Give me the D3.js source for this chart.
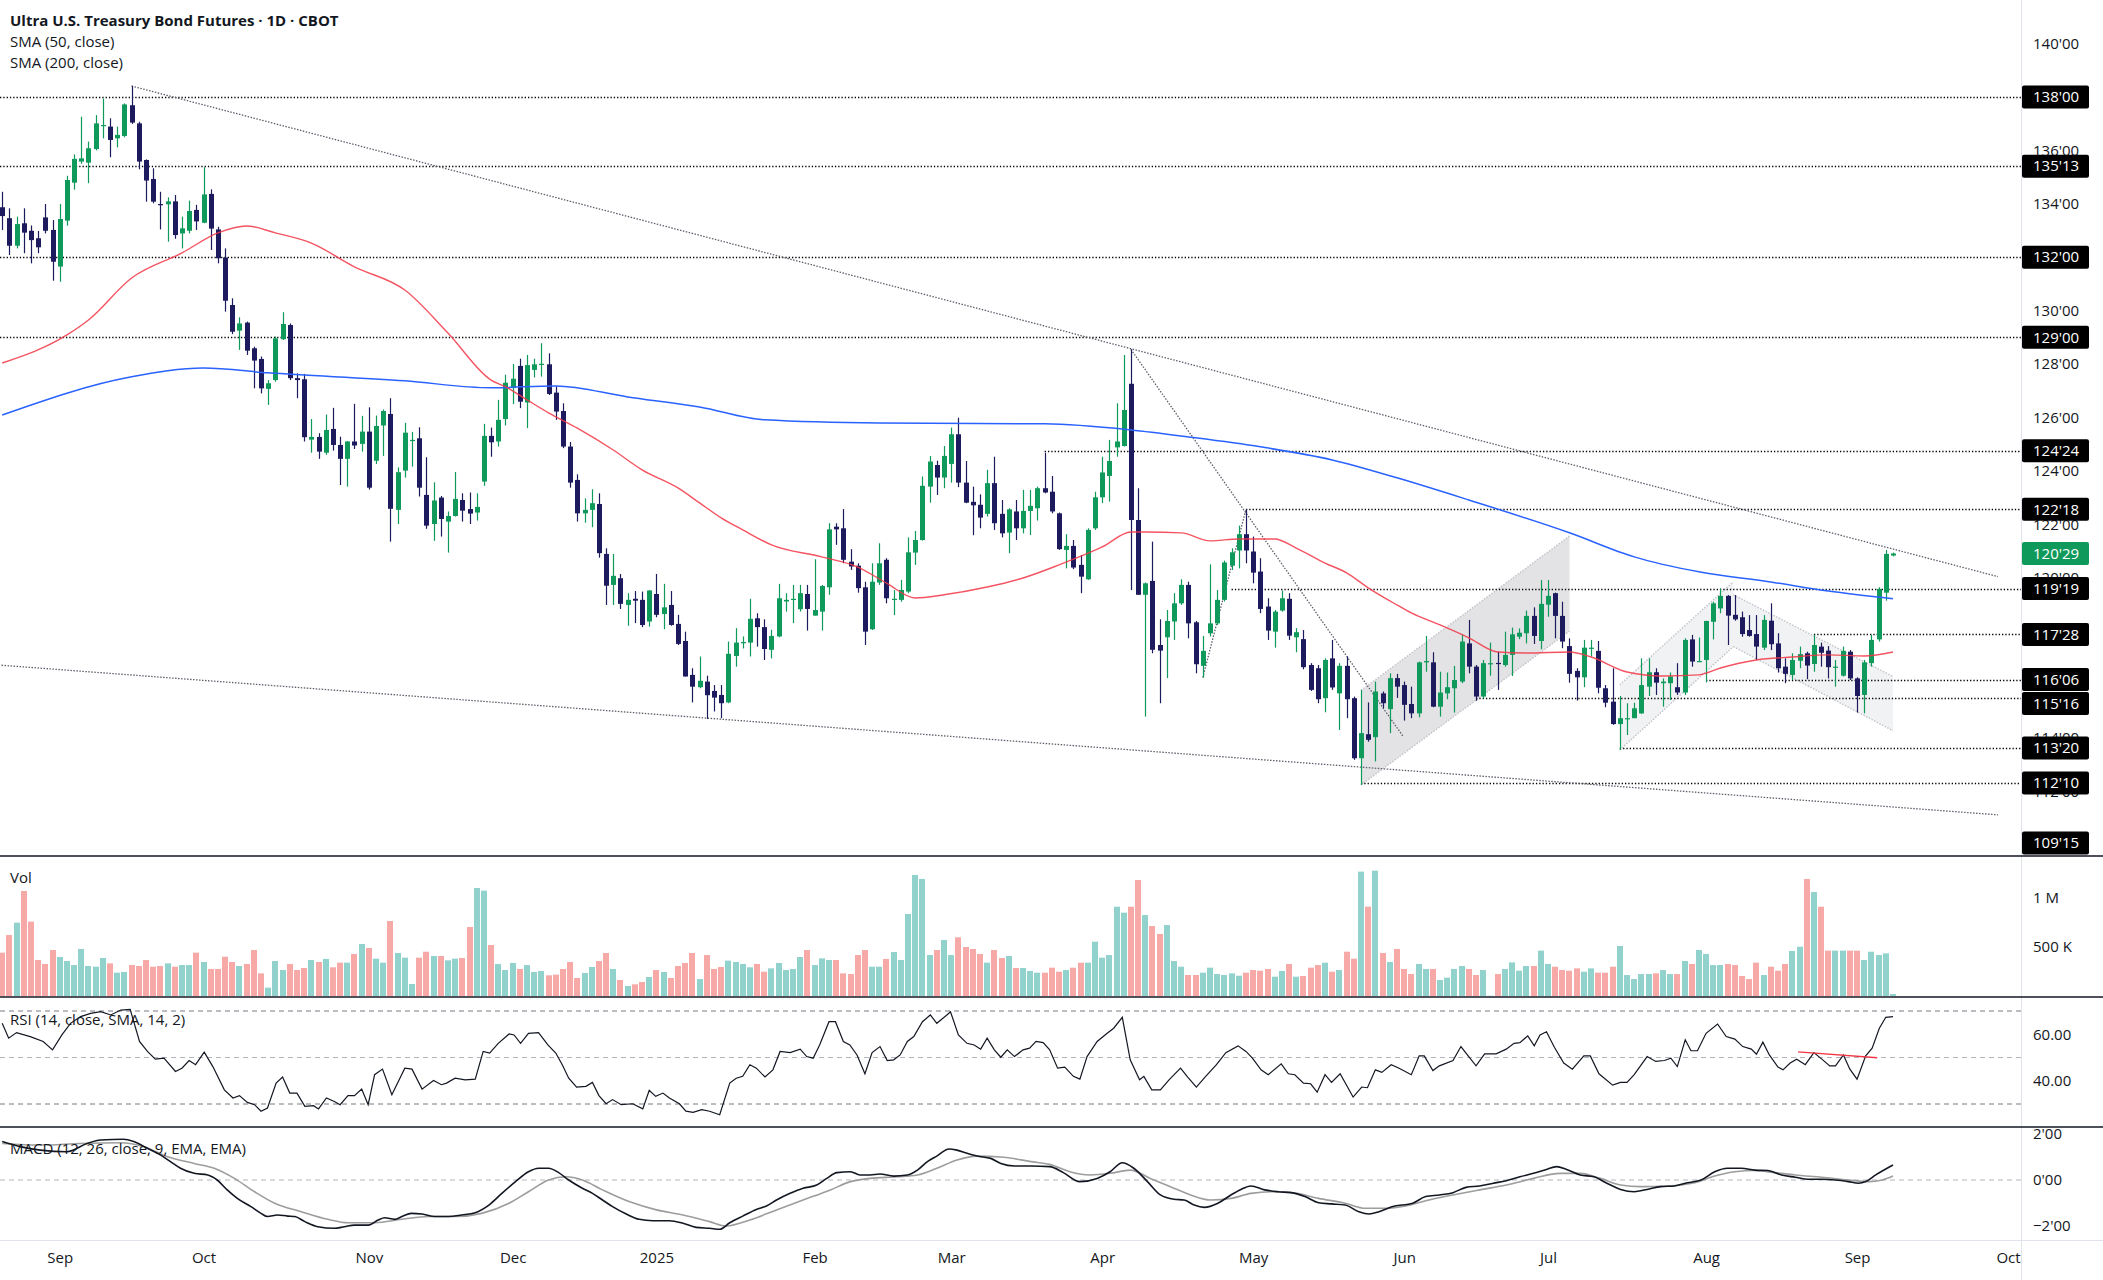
<!DOCTYPE html>
<html>
<head>
<meta charset="utf-8">
<script src="https://cdn.jsdelivr.net/npm/d3@7"></script>
<style>
html, body { margin: 0; padding: 0; background: #fff; }
svg { display: block; font-family: "Open Sans", sans-serif; }
</style>
</head>
<body>
<svg id="chart" width="2103" height="1280"></svg>
<script>
// Daily bars, index 0 = first bar on the left (late Aug 2024)
var open = [
133.87,133.46,132.43,133.27,132.99,132.71,133.49,133.02,131.65,133.37,
134.79,135.58,135.54,136.05,136.91,136.89,136.45,136.54,137.69,137.01,
135.64,134.93,133.99,133.98,134.09,132.89,132.99,133.77,133.29,134.37,
133.04,131.99,130.21,129.25,129.55,128.59,128.19,127.07,127.40,128.93,
129.46,127.47,127.43,125.17,125.27,124.68,125.57,124.97,124.45,125.10,
125.01,125.47,124.38,125.70,126.13,122.54,124.01,125.12,125.22,123.10,
122.01,123.00,122.10,122.31,122.91,122.57,122.44,123.60,125.31,125.10,
125.94,127.10,127.93,126.56,127.78,127.99,127.99,126.93,126.24,124.91,
123.66,122.41,122.54,122.76,120.89,119.73,119.98,118.98,119.21,119.17,
118.36,119.39,118.64,118.98,118.27,117.63,116.36,115.90,116.11,115.76,
115.61,115.33,117.07,117.57,117.57,118.48,118.15,117.30,117.80,119.11,
119.17,118.82,119.39,118.58,118.73,119.64,121.91,121.85,120.60,120.45,
119.64,118.07,119.82,120.67,119.17,119.17,119.48,120.94,121.41,123.41,
124.22,123.75,124.26,125.37,123.56,122.84,122.73,122.39,123.54,122.39,
121.69,122.48,121.85,122.50,122.60,123.35,123.22,122.41,121.04,121.19,
120.48,119.94,121.85,123.01,123.81,124.88,124.93,127.26,122.16,119.36,
119.88,117.48,117.77,118.36,119.04,119.73,118.33,116.70,117.92,118.29,
119.17,120.45,121.02,121.63,120.98,120.23,118.92,117.98,118.77,119.21,
117.77,117.70,116.73,116.61,115.49,116.98,115.67,116.70,115.49,113.24,
114.14,114.03,115.67,115.08,116.24,115.98,115.27,114.92,116.83,116.83,
115.17,115.67,115.86,116.11,117.54,116.67,115.55,116.77,116.81,116.73,
117.11,117.79,117.92,118.57,117.63,118.99,119.42,118.57,117.44,116.51,
116.27,117.35,117.26,115.86,115.36,114.52,114.70,114.74,114.92,115.92,
116.46,116.05,116.05,115.90,115.70,117.69,116.86,116.92,118.35,118.85,
119.32,118.61,118.52,118.04,117.89,117.38,118.39,117.54,116.67,116.36,
116.89,117.17,116.77,117.42,117.27,116.65,116.33,117.23,116.23,115.61,
116.80,117.69,119.44,120.83];

var high = [
134.45,133.83,133.52,133.83,133.19,132.98,133.99,133.39,133.99,135.05,
135.85,137.26,136.33,137.32,137.94,137.20,136.89,137.76,138.41,137.07,
135.66,135.33,134.45,134.24,134.33,133.52,134.12,133.96,135.37,134.54,
133.14,132.33,130.46,129.75,129.59,128.65,128.28,127.40,129.03,129.94,
129.52,127.65,127.63,125.94,125.41,126.11,126.36,125.28,125.12,126.51,
126.06,126.38,126.07,126.30,126.72,124.13,125.80,125.46,125.63,124.51,
123.57,123.06,122.48,123.96,123.16,123.19,123.16,125.76,125.62,126.66,
127.60,128.00,128.20,128.34,128.20,128.78,128.40,127.16,126.53,125.08,
123.87,122.97,123.31,123.16,121.10,120.89,120.14,119.42,119.50,119.48,
119.54,120.14,119.77,119.50,118.61,117.98,116.61,117.05,116.33,115.98,
115.98,117.61,118.11,117.80,119.21,118.67,118.44,118.05,119.77,119.42,
119.73,119.73,119.73,120.69,119.73,122.04,122.04,122.57,121.07,120.54,
119.85,120.54,121.29,120.73,119.54,119.92,121.51,121.75,123.79,124.56,
124.38,124.93,125.62,125.99,124.37,123.41,123.12,124.04,124.53,122.91,
122.60,122.91,123.29,123.29,123.41,124.68,123.81,122.44,121.63,121.41,
120.85,121.85,123.22,124.53,125.16,126.53,128.34,128.55,123.35,119.82,
121.35,118.44,118.79,119.42,119.94,119.85,118.38,117.82,120.50,119.54,
120.64,121.10,121.95,122.56,121.54,120.73,119.23,118.79,119.52,119.42,
118.11,118.04,116.80,116.73,116.98,117.67,116.80,117.05,115.55,115.80,
115.33,116.11,115.74,116.42,116.40,116.11,115.92,116.86,117.82,117.21,
116.48,116.45,116.70,117.86,118.42,116.73,116.92,117.57,117.23,117.98,
118.13,118.10,118.77,118.89,119.91,119.91,119.44,119.10,117.73,116.61,
117.67,117.67,117.63,115.98,116.61,115.57,115.30,115.32,116.98,116.98,
116.61,116.23,116.45,116.80,117.73,117.86,117.76,118.39,119.10,119.60,
119.35,119.35,118.73,118.60,118.60,118.60,119.04,117.92,116.98,117.17,
117.42,117.23,117.86,117.57,117.44,116.92,117.42,117.29,116.27,116.92,
117.86,119.64,121.04,120.94];

var low = [
133.02,132.08,132.33,132.15,131.77,132.15,132.89,131.12,131.08,133.18,
134.53,135.50,134.77,136.00,136.45,135.74,136.11,136.49,136.99,135.29,
134.08,134.02,133.04,132.58,132.69,132.33,132.89,133.02,133.27,132.27,
131.77,129.96,129.12,128.53,128.34,127.09,126.90,126.47,127.34,128.90,
127.40,126.72,125.10,124.68,124.45,124.60,124.76,123.47,123.41,124.82,
124.72,123.30,124.26,124.56,121.35,122.01,123.75,124.16,123.04,121.83,
121.38,121.54,120.94,122.29,122.10,122.01,122.14,123.44,124.53,124.91,
125.70,126.50,126.35,125.60,127.50,127.53,126.84,125.91,124.85,123.37,
122.10,122.06,121.89,120.75,118.98,118.98,118.83,118.20,118.30,118.15,
118.17,118.52,118.07,118.20,117.48,116.30,115.33,115.86,114.71,114.99,
114.74,115.30,116.67,117.35,117.05,117.42,116.92,116.98,117.77,118.73,
118.30,118.73,118.02,118.58,118.02,119.36,121.23,120.54,120.29,119.44,
117.48,118.04,119.73,119.04,118.60,119.10,119.42,120.48,121.39,122.81,
123.10,123.35,123.56,123.39,122.79,121.59,121.85,122.29,121.79,121.51,
120.92,121.41,121.66,121.60,122.14,123.16,122.41,121.04,120.35,120.32,
119.42,119.92,121.79,122.79,122.85,124.53,124.91,119.54,119.36,114.80,
117.17,115.30,116.24,117.67,118.98,117.73,116.42,116.26,117.80,118.23,
119.11,120.29,120.35,120.54,119.79,118.67,117.67,117.38,118.73,117.67,
117.21,116.57,115.76,115.30,114.96,115.80,114.30,114.74,113.18,112.24,
113.86,113.12,115.11,114.18,115.50,114.65,114.74,114.77,116.48,115.15,
114.80,115.45,114.95,116.05,116.42,115.39,115.48,116.33,115.80,116.67,
116.32,117.70,117.54,117.52,117.32,118.54,117.73,117.36,116.07,115.40,
115.90,117.05,115.67,115.15,114.49,113.55,114.11,114.74,114.90,115.57,
115.61,115.17,115.42,115.61,115.61,116.67,116.86,116.08,117.69,118.67,
117.48,118.39,117.79,117.79,116.92,117.29,117.29,116.45,116.05,116.17,
116.61,116.20,116.48,116.67,116.23,115.92,116.30,116.17,114.95,114.92,
116.67,117.61,119.14,120.80];

var close = [
133.54,132.43,133.24,132.92,132.64,132.37,132.99,131.83,133.43,134.89,
135.68,135.70,136.08,137.01,136.95,136.39,136.58,137.72,137.04,135.58,
134.87,134.08,133.97,134.09,132.83,133.08,133.73,133.34,134.35,133.07,
131.96,130.37,129.21,129.52,128.50,128.13,127.09,127.28,128.96,129.50,
127.47,127.40,125.26,125.27,124.72,125.53,124.97,124.45,125.10,124.95,
125.47,123.37,125.68,126.24,122.58,123.95,125.43,125.16,123.37,121.95,
122.89,122.20,122.31,122.95,122.51,122.40,122.65,125.31,125.07,125.91,
127.30,127.45,126.59,127.96,127.99,128.01,126.88,126.22,124.91,123.56,
122.41,122.54,122.79,120.92,119.70,120.07,119.02,119.17,119.14,118.23,
119.52,118.61,118.89,118.23,117.52,116.30,115.92,116.14,115.60,115.51,
115.30,117.15,117.57,117.59,118.46,118.15,117.33,117.82,119.23,119.17,
119.21,119.42,118.83,118.79,119.69,121.81,121.81,120.67,120.42,119.61,
117.98,119.85,120.54,119.23,119.21,119.54,120.95,121.41,123.44,124.35,
123.75,124.56,125.37,123.56,122.81,122.71,122.25,123.54,122.04,121.66,
122.56,121.85,122.50,122.69,123.35,123.19,122.48,121.07,121.19,120.38,
120.04,121.79,123.01,123.94,124.37,125.10,126.28,122.16,119.36,119.79,
117.30,117.27,118.38,119.04,119.73,118.29,116.76,117.26,118.29,119.17,
120.57,120.95,121.63,121.02,120.19,118.83,118.02,118.73,119.23,117.83,
117.96,116.65,115.80,115.45,116.92,115.89,116.70,115.45,113.24,114.18,
113.93,115.74,115.30,116.24,115.92,115.24,114.92,116.83,116.88,115.17,
115.70,115.90,116.17,117.61,116.67,115.55,116.80,116.80,116.78,117.11,
117.88,117.94,118.57,117.82,119.02,119.32,118.57,117.61,116.40,116.27,
117.38,117.38,115.88,115.32,114.52,114.74,114.74,115.11,115.98,116.46,
116.07,116.11,116.30,115.70,117.67,116.86,116.88,118.38,119.04,119.32,
118.58,118.44,117.89,117.82,117.42,118.42,117.51,116.61,116.40,116.92,
117.14,116.71,117.48,117.19,116.65,116.67,117.26,116.23,115.57,116.83,
117.67,119.58,120.89,120.906];

// Volume in thousands of contracts
var volume = [
442,622,748,1071,759,367,327,469,398,357,
316,480,306,299,388,333,238,245,316,306,
367,299,306,333,299,316,316,442,347,276,
276,401,347,306,327,469,231,85,357,265,
327,265,286,367,347,378,293,340,340,429,
531,490,381,340,765,439,391,122,391,452,
408,408,364,381,388,704,1102,1075,520,327,
265,337,276,316,245,255,211,218,276,347,
184,235,296,357,439,276,163,102,119,143,
194,265,245,184,306,337,439,173,418,276,
296,361,347,327,293,327,248,282,337,265,
276,398,469,316,384,367,367,231,224,418,
469,299,299,378,449,367,837,1235,1194,418,
469,571,418,599,500,480,429,340,469,388,
408,286,286,255,238,238,289,248,265,289,
340,340,554,391,418,911,850,911,1184,826,
714,633,724,357,299,214,214,238,289,224,
214,231,207,238,265,258,276,197,255,327,
197,204,289,316,340,248,265,452,381,1269,
911,1279,439,347,480,276,224,327,276,276,
163,187,276,306,276,214,265,3,224,276,
343,258,306,306,463,327,299,265,258,282,
248,282,238,238,299,510,214,173,224,224,
231,265,224,224,357,327,469,429,316,316,
327,316,204,173,340,214,299,258,327,459,
503,1194,1061,911,463,463,463,463,463,367,
452,418,435,20];

// Moving averages: [bar, price]
var sma50 = [[0,128.04],[9,129.09],[12,129.65],[18,131.22],[25,132.16],[30,132.91],[34,133.17],[38,132.91],
  [43,132.53],[49,131.64],[56,130.77],[62,129.16],[68,127.40],[70,127.15],[73,126.66],[76,126.17],[80,125.60],
  [85,124.78],[89,124.04],[94,123.36],[97,122.80],[100,122.24],[103,121.79],[107,121.23],[114,120.78],
  [119,120.40],[123,119.80],[127,119.24],[131,119.36],[137,119.65],[142,119.99],[147,120.48],[153,121.15],
  [157,121.71],[159,121.71],[164,121.68],[168,121.38],[172,121.45],[177,121.45],[180,121.11],[184,120.55],
  [187,120.18],[190,119.62],[194,118.98],[196,118.68],[200,118.23],[204,117.75],[208,117.22],[212,117.18],
  [218,117.22],[221,117.03],[226,116.47],[231,116.32],[236,116.36],[239,116.62],[244,116.92],[249,117.03],
  [254,117.11],[259,117.07],[263,117.22]];
var sma200 = [[0,126.09],[18,127.52],[28,127.85],[37,127.67],[56,127.37],[68,127.11],[77,127.18],[87,126.77],
  [97,126.39],[106,125.91],[122,125.79],[145,125.76],[157,125.53],[165,125.27],[175,124.90],[185,124.41],
  [194,123.74],[204,122.91],[218,121.68],[227,120.78],[236,120.22],[246,119.84],[254,119.50],[263,119.21]];

// RSI (14) samples: [bar, value]
var rsi = [[0,64.7],[0.9,58.3],[2,60.7],[3.9,59],[5.7,56.9],[7,53.3],[8.3,59.7],[9.5,64.7],[10.9,67.6],[12.3,69],
  [13.7,69.7],[15.1,68.3],[16.5,70.4],[17.8,70.7],[19.1,56.9],[20.2,52.6],[21.3,49.3],[22.5,49.7],[24.1,44],
  [25,45.4],[26,48.7],[26.9,46.9],[28.1,52.3],[29.3,46.1],[30.9,36.1],[32.1,32.6],[33,33.6],[34.1,30.7],
  [35.1,29.7],[36,26.9],[36.9,28.3],[38.1,39],[39,41.6],[40,34.7],[41,34.7],[42.1,29],[43.3,29.3],[44,27.9],
  [45.1,32.6],[46.2,31.1],[47,29.7],[48.1,33.6],[49,33.6],[50,36.4],[50.9,29.7],[51.8,42.6],[52.9,45],
  [54.2,34],[56,45.4],[57,45],[58.4,36.4],[60,40.1],[61.1,38.3],[61.8,39],[63,41.1],[64.4,40.4],[65.8,40.7],
  [66.9,52.6],[67.8,51.9],[69,56.1],[70.5,60.1],[71.2,59.7],[72.1,56.1],[73.2,60.4],[74.6,60.7],[75.9,55.4],
  [77,51.9],[77.9,46.9],[78.8,41.1],[79.9,37.3],[81.2,37.6],[82.1,39.3],[83,33.6],[84,30.1],[84.9,31.9],
  [86.1,29.7],[87.7,30.1],[89.1,27.9],[90,35.9],[90.9,33.3],[91.9,34.7],[92.8,32.6],[94.2,30.1],[95.1,26.9],
  [96.1,26.4],[97.3,27.6],[98.4,26.9],[99.8,25.4],[101.2,39],[102.1,41.1],[103,41.9],[104,46.9],[104.9,45.4],
  [106.1,41.6],[107.2,44.7],[108.2,52.6],[109.6,52.1],[111,53.6],[111.9,50.4],[112.8,49.7],[113.7,55.4],
  [115,65.4],[115.9,65.4],[117,56.9],[117.9,55.4],[118.9,51.1],[120,43],[121,52.1],[122.1,54.7],[123.1,48.7],
  [124,49],[124.9,51.1],[125.9,56.9],[126.8,59],[128,65.4],[129.1,68.3],[130,64.7],[131.4,68.3],[131.9,69.7],
  [133,59.7],[134.2,56.1],[135.2,55.4],[136.1,53.6],[137,58.3],[138,53.3],[138.9,50.1],[139.8,53.3],
  [140.8,50.4],[142,53.3],[142.9,54],[143.8,56.9],[144.8,56.4],[145.7,53.3],[146.8,45.4],[147.8,45.9],
  [149,41.9],[149.9,40.7],[150.9,50.4],[152.3,56.9],[153.7,60.4],[154.6,62.6],[155.8,67.3],[156.9,49],
  [158.2,40.4],[158.8,41.9],[159.9,36.1],[161.1,36.1],[162.3,40.4],[163.9,45.4],[164.9,41.6],[166.1,37.3],
  [167.4,41.9],[168.9,46.9],[170.2,52.1],[171.9,55],[173,52.6],[173.9,49.7],[175.1,44.7],[176.1,42.6],
  [177.9,47.3],[178.9,43],[179.8,42.6],[181,39],[182,38.7],[182.9,35.1],[184,42.6],[184.9,39.3],[186.1,43],
  [187.9,33],[189.1,37.3],[189.9,37],[191,44.7],[191.9,43.6],[193.2,46.9],[194.3,45.4],[196,42.6],
  [197.1,50.7],[197.8,50.7],[199,44.4],[199.9,46.4],[201.8,48.7],[202.9,54.7],[203.8,51.1],[205,46.4],
  [206.2,51.6],[207.8,51.6],[209.2,53.6],[210.3,56.1],[211.1,56.4],[212.2,59.3],[213.1,55],[213.9,59.7],
  [214.8,61.1],[215.9,54.4],[217.2,47.6],[218.4,45],[220,50.7],[220.9,50.7],[222.1,43],[224,38.1],
  [225.1,39.3],[226,39.3],[227,42.6],[228.8,50.4],[230,48.3],[231.2,48.7],[232.1,49.7],[233,46.1],
  [234.1,57.6],[234.9,52.9],[235.8,52.9],[237,60.4],[238.6,64.4],[239.8,59],[241,57.9],[242.1,54.7],
  [243.3,53.6],[244,51.4],[244.9,56.6],[245.8,51.1],[247,45.9],[247.7,44.7],[248.7,47.6],[249.6,49.3],
  [250.8,46.9],[252,52.1],[253.1,49.3],[254.2,46.4],[255,46.4],[256.1,51.1],[257,45],[258,40.7],[259.2,50.7],
  [260.1,54],[261.1,62.6],[262,67.3],[263,67.6]];
var rsiMa = [[249.8,52.4],[260.8,49.9]];

// MACD (12, 26, 9): [bar, value]
var macd = [[0,1.67],[2.5,1.45],[5.3,1.3],[9,1.23],[11.8,1.59],[13.7,1.74],[16.9,1.77],[18.3,1.67],[20.2,1.38],
  [22,1.09],[23.4,0.8],[24.8,0.51],[26.7,0.29],[28.6,0.22],[29.9,0],[31.3,-0.43],[32.7,-0.8],[34.6,-1.16],
  [36,-1.45],[36.9,-1.59],[38.3,-1.52],[39.7,-1.57],[40.7,-1.59],[42.1,-1.81],[43.9,-2.03],[46.2,-2.1],
  [47.6,-2.03],[49,-1.96],[50.9,-1.96],[52.3,-1.74],[53.2,-1.64],[54.6,-1.71],[55.6,-1.59],[56.9,-1.45],
  [58.4,-1.48],[60.2,-1.59],[62.1,-1.59],[63.9,-1.52],[65.8,-1.42],[67.7,-1.09],[69.5,-0.58],[71.4,-0.07],
  [73.2,0.36],[74.6,0.51],[76,0.51],[77.4,0.32],[78.8,0],[80.7,-0.36],[82.1,-0.58],[83.5,-0.87],[84.9,-1.16],
  [86.8,-1.48],[88.6,-1.71],[90.5,-1.77],[92.8,-1.77],[94.7,-1.88],[96.5,-2.06],[98.4,-2.1],[99.8,-2.14],
  [101.2,-1.86],[103,-1.57],[104.9,-1.28],[106.3,-1.13],[107.7,-0.87],[109.6,-0.58],[111.4,-0.36],
  [113.3,-0.22],[114.7,0.07],[116.1,0.32],[118,0.36],[119.3,0.22],[120.7,0.22],[122.1,0.26],[124,0.17],
  [125.9,0.22],[127.3,0.43],[128.7,0.8],[130,1.04],[131.7,1.35],[132.8,1.3],[134.2,1.16],[135.6,1.04],
  [137.5,0.94],[138.9,0.72],[140.8,0.61],[143.1,0.61],[145.7,0.58],[147.6,0.32],[149.9,-0.07],[152.3,0.07],
  [154.1,0.36],[155.8,0.75],[157.4,0.51],[159.3,-0.07],[161.1,-0.65],[163,-0.84],[164.4,-0.87],[165.8,-1.09],
  [167.2,-1.19],[169.1,-1.01],[170.9,-0.65],[172.3,-0.41],[173.7,-0.26],[175.6,-0.43],[177.5,-0.51],
  [179.3,-0.55],[181.2,-0.72],[183.1,-0.99],[184.9,-1.04],[186.8,-1.09],[188.7,-1.38],[190.1,-1.48],
  [191.5,-1.38],[193.3,-1.16],[196.2,-1.01],[198,-0.72],[199.9,-0.65],[201.8,-0.55],[203.6,-0.32],
  [205.5,-0.26],[207.4,-0.14],[209.2,-0.03],[211.1,0.14],[213,0.29],[214.8,0.46],[216.2,0.58],[217.6,0.46],
  [219.5,0.22],[221.4,0.14],[223.2,-0.14],[225.1,-0.41],[227,-0.51],[228.8,-0.41],[230.7,-0.29],[232.6,-0.26],
  [234.4,-0.12],[236.3,0],[238.2,0.36],[240,0.51],[241.9,0.51],[243.8,0.43],[245.6,0.41],[247.5,0.22],
  [249.4,0.12],[251.2,0.03],[253.1,0.03],[255,0],[256.8,-0.07],[258.2,-0.14],[259.2,-0.07],[260.6,0.22],
  [263,0.65]];
var signal = [[0,1.59],[5.3,1.52],[10.9,1.59],[16.5,1.62],[19.7,1.45],[23,1.01],[26.7,0.72],[29.5,0.51],
  [32.3,0.07],[35.1,-0.51],[37.9,-1.01],[41.6,-1.38],[45.3,-1.71],[48.1,-1.86],[51.8,-1.86],[55.6,-1.71],
  [59.3,-1.59],[63,-1.59],[66.7,-1.45],[70.5,-1.01],[73.2,-0.51],[76,0],[78.4,0.14],[80.7,0],[83.5,-0.43],
  [87.2,-0.94],[91,-1.3],[94.7,-1.52],[98.4,-1.81],[100.7,-2],[104,-1.74],[107.7,-1.3],[111.4,-0.87],
  [115.2,-0.43],[118,-0.07],[120.7,0.07],[124.5,0.14],[127.3,0.22],[130,0.51],[132.8,0.87],[135.6,1.04],
  [139.3,0.99],[143.1,0.8],[145.7,0.68],[148.5,0.36],[151.3,0.22],[154.1,0.29],[156.9,0.43],[159.7,0.07],
  [162.5,-0.29],[165.3,-0.65],[168.1,-0.87],[170.9,-0.8],[173.7,-0.58],[176.5,-0.51],[179.3,-0.55],
  [183.1,-0.8],[186.8,-1.01],[189.6,-1.23],[192.4,-1.23],[195.2,-1.13],[198,-0.9],[201.8,-0.65],[205.5,-0.43],
  [209.2,-0.22],[213,0.07],[216.7,0.29],[219.5,0.29],[222.3,0.07],[225.1,-0.22],[227.9,-0.29],[231.6,-0.26],
  [235.4,-0.12],[238.2,0.17],[241,0.36],[243.8,0.41],[246.6,0.32],[249.4,0.22],[253.1,0.12],[256.8,0],
  [259.6,-0.07],[261.5,0],[263,0.17]];

// Time axis
var monthIdx = [8, 28, 51, 71, 91, 113, 132, 153, 174, 195, 215, 237, 258, 279];
var monthLabels = ["Sep", "Oct", "Nov", "Dec", "2025", "Feb", "Mar", "Apr", "May", "Jun", "Jul", "Aug", "Sep", "Oct"];

// Horizontal levels (price) and the bar each one starts from
var levels = [138, 135.40625, 132, 129, 124.75, 122.5625, 119.59375, 117.875, 116.1875, 115.5, 113.625, 112.3125];
var levelFrom = [-1, -1, -1, -1, 145, 173, 171, 252, 237, 205, 225, 189];
var lastPrice = 120.90625;
var lowLevel = 109.46875;

// Drawn trend lines and channels: [bar, price]
var trendUpper = [[18, 138.41], [277.6, 120.04]];
var trendLower = [[-0.5, 116.73], [277.6, 111.12]];
var trendApril = [[157, 128.55], [194.8, 114.08]];
var trendMay = [[167, 116.26], [173, 122.56]];
var channelA = [[189, 112.24], [189, 115.78], [218, 121.56], [218, 118.0]];
var channelB = [[225, 113.55], [225, 115.99], [240.8, 119.85], [240.8, 117.42]];
var channelC = [[240.8, 117.42], [240.8, 119.36], [263, 116.30], [263, 114.27]];

var volTicks = [500, 1000], volTickLabels = ["500 K", "1 M"];
var rsiTicks = [40, 60];
var macdTicks = [-2, 0, 2];

// Layout
var W = 2103, H = 1280, plotR = 2021;
var green = "#0f995b", navy = "#1d1a5e";

var svg = d3.select("#chart");

var x = d3.scaleLinear().domain([0, 263]).range([2.2, 1893]);
var yP = d3.scaleLinear().domain([109.58, 141.63]).range([856, 0]);
var yV = d3.scaleLinear().domain([0, 1000]).range([996, 898]);
var yR = d3.scaleLinear().domain([30, 70]).range([1104, 1011]);
var yM = d3.scaleLinear().domain([-2, 2]).range([1226, 1134]);

function fmt32(p) {
  var neg = p < 0, a = Math.abs(p);
  var whole = Math.floor(a + 1e-9), t = Math.round((a - whole) * 32);
  if (t === 32) { whole += 1; t = 0; }
  return (neg ? "\u2212" : "") + whole + "'" + (t < 10 ? "0" : "") + t;
}

var defs = svg.append("defs");
function clip(id, y0, y1) {
  defs.append("clipPath").attr("id", id).append("rect")
    .attr("x", 0).attr("y", y0).attr("width", plotR).attr("height", y1 - y0);
}
clip("cP", 0, 856); clip("cV", 857, 997); clip("cR", 998, 1127); clip("cM", 1128, 1240);

// ---------- main pane ----------
var gP = svg.append("g").attr("clip-path", "url(#cP)");

function poly(pts) { return pts.map(function(d) { return [x(d[0]), yP(d[1])]; }); }

[[channelA, "rgba(150,152,160,0.27)"], [channelB, "rgba(170,172,180,0.16)"], [channelC, "rgba(170,172,180,0.16)"]]
  .forEach(function(c) {
    var pts = poly(c[0]);
    gP.append("polygon").attr("points", pts.join(" ")).attr("fill", c[1]);
    [[pts[0], pts[3]], [pts[1], pts[2]]].forEach(function(e) {
      gP.append("line").attr("x1", e[0][0]).attr("y1", e[0][1]).attr("x2", e[1][0]).attr("y2", e[1][1])
        .attr("stroke", "#c4c5cc").attr("stroke-width", 1.5).attr("stroke-dasharray", "1.5,1.5");
    });
  });

levels.forEach(function(p, k) {
  gP.append("line")
    .attr("x1", Math.max(0, x(levelFrom[k]))).attr("x2", plotR)
    .attr("y1", Math.round(yP(p)) + 0.5).attr("y2", Math.round(yP(p)) + 0.5)
    .attr("stroke", "#000").attr("stroke-width", 1.3).attr("stroke-dasharray", "1.3,2");
});

[trendUpper, trendLower, trendApril, trendMay].forEach(function(t) {
  gP.append("line")
    .attr("x1", x(t[0][0])).attr("y1", yP(t[0][1])).attr("x2", x(t[1][0])).attr("y2", yP(t[1][1]))
    .attr("stroke", "#5d606b").attr("stroke-width", 1.3).attr("stroke-dasharray", "1.5,1.5");
});

var bars = d3.range(open.length).map(function(i) {
  return {i: i, o: open[i], h: high[i], l: low[i], c: close[i], v: volume[i], up: close[i] >= open[i]};
});

var candle = gP.selectAll(".candle").data(bars).enter().append("g").attr("class", "candle");
candle.append("line")
  .attr("x1", function(d) { return Math.round(x(d.i)) + 0.5; })
  .attr("x2", function(d) { return Math.round(x(d.i)) + 0.5; })
  .attr("y1", function(d) { return yP(Math.max(d.h, d.o, d.c)); })
  .attr("y2", function(d) { return yP(Math.min(d.l, d.o, d.c)); })
  .attr("stroke", function(d) { return d.up ? green : navy; }).attr("stroke-width", 1.2);
candle.append("rect")
  .attr("x", function(d) { return Math.round(x(d.i)) - 2; })
  .attr("width", 5)
  .attr("y", function(d) { return yP(Math.max(d.o, d.c)); })
  .attr("height", function(d) { return Math.max(1.2, yP(Math.min(d.o, d.c)) - yP(Math.max(d.o, d.c))); })
  .attr("fill", function(d) { return d.up ? green : navy; });

var smaLine = d3.line().x(function(d) { return x(d[0]); }).y(function(d) { return yP(d[1]); })
  .curve(d3.curveMonotoneX);
gP.append("path").attr("d", smaLine(sma200)).attr("fill", "none").attr("stroke", "#2962ff").attr("stroke-width", 1.5);
gP.append("path").attr("d", smaLine(sma50)).attr("fill", "none").attr("stroke", "#f23645")
  .attr("stroke-width", 1.4).attr("stroke-opacity", 0.85);

// ---------- volume pane ----------
var gV = svg.append("g").attr("clip-path", "url(#cV)");
gV.selectAll("rect").data(bars).enter().append("rect")
  .attr("x", function(d) { return Math.round(x(d.i)) - 3; })
  .attr("width", 6)
  .attr("y", function(d) { return yV(d.v); })
  .attr("height", function(d) { return yV(0) - yV(d.v); })
  .attr("fill", function(d) { return d.up ? "#92d2cc" : "#f7a9a7"; });

// ---------- RSI pane ----------
var gR = svg.append("g").attr("clip-path", "url(#cR)");
[[70, "#787b86"], [50, "#b2b5be"], [30, "#787b86"]].forEach(function(l) {
  gR.append("line").attr("x1", 0).attr("x2", plotR).attr("y1", yR(l[0])).attr("y2", yR(l[0]))
    .attr("stroke", l[1]).attr("stroke-width", 1).attr("stroke-dasharray", "5,4");
});
var rsiLine = d3.line().x(function(d) { return x(d[0]); }).y(function(d) { return yR(d[1]); });
gR.append("path").attr("d", rsiLine(rsi)).attr("fill", "none").attr("stroke", "#131722").attr("stroke-width", 1.2);
gR.append("path").attr("d", rsiLine(rsiMa)).attr("fill", "none").attr("stroke", "#f23645").attr("stroke-width", 1.4);

// ---------- MACD pane ----------
var gM = svg.append("g").attr("clip-path", "url(#cM)");
gM.append("line").attr("x1", 0).attr("x2", plotR).attr("y1", yM(0)).attr("y2", yM(0))
  .attr("stroke", "#b2b5be").attr("stroke-dasharray", "5,4");
var macdLine = d3.line().x(function(d) { return x(d[0]); }).y(function(d) { return yM(d[1]); })
  .curve(d3.curveMonotoneX);
gM.append("path").attr("d", macdLine(signal)).attr("fill", "none").attr("stroke", "#9d9d9d").attr("stroke-width", 1.6);
gM.append("path").attr("d", macdLine(macd)).attr("fill", "none").attr("stroke", "#131722").attr("stroke-width", 1.6);

// ---------- frame ----------
svg.append("line").attr("x1", plotR + 0.5).attr("x2", plotR + 0.5).attr("y1", 0).attr("y2", H)
  .attr("stroke", "#e0e3eb");
svg.append("line").attr("x1", 0).attr("x2", W).attr("y1", 1240.5).attr("y2", 1240.5).attr("stroke", "#e0e3eb");
[856, 997, 1127].forEach(function(y) {
  svg.append("line").attr("x1", 0).attr("x2", W).attr("y1", y).attr("y2", y)
    .attr("stroke", "#131722").attr("stroke-width", 1.5);
});

// ---------- price labels on the right scale ----------
var tags = levels.map(function(p) { return {p: p, fill: "#000"}; });
tags.push({p: lastPrice, fill: green});
tags.push({p: lowLevel, fill: "#000"});
tags.forEach(function(d) { d.y = Math.min(yP(d.p), 843); });
tags.sort(function(a, b) { return a.y - b.y; });
for (var k = 1; k < tags.length; k++) {
  if (tags[k].y - tags[k - 1].y < 24) tags[k].y = tags[k - 1].y + 24;
}

// ---------- axes ----------
function styleAxis(g) {
  g.select(".domain").remove();
  g.selectAll("text").attr("fill", "#131722").style("font-size", "15px").style("font-family", "'Open Sans', sans-serif");
}
// price ticks that sit fully under a tag are not drawn
var priceTicks = d3.range(110, 141, 2).filter(function(p) {
  return !tags.some(function(d) { return Math.abs(d.y - yP(p)) < 7; });
});
svg.append("g").attr("transform", "translate(" + plotR + ",0)")
  .call(d3.axisRight(yP).tickValues(priceTicks).tickSize(0).tickPadding(12).tickFormat(fmt32))
  .call(styleAxis);
svg.append("g").attr("transform", "translate(" + plotR + ",0)")
  .call(d3.axisRight(yV).tickValues(volTicks).tickSize(0).tickPadding(12)
    .tickFormat(function(d, i) { return volTickLabels[i]; }))
  .call(styleAxis);
svg.append("g").attr("transform", "translate(" + plotR + ",0)")
  .call(d3.axisRight(yR).tickValues(rsiTicks).tickSize(0).tickPadding(12).tickFormat(d3.format(".2f")))
  .call(styleAxis);
svg.append("g").attr("transform", "translate(" + plotR + ",0)")
  .call(d3.axisRight(yM).tickValues(macdTicks).tickSize(0).tickPadding(12).tickFormat(fmt32))
  .call(styleAxis);
svg.append("g").attr("transform", "translate(0,1240)")
  .call(d3.axisBottom(x).tickValues(monthIdx).tickSize(0).tickPadding(12)
    .tickFormat(function(d, i) { return monthLabels[i]; }))
  .call(styleAxis);

var tag = svg.selectAll(".tag").data(tags).enter().append("g").attr("class", "tag");
tag.append("rect").attr("x", plotR + 1).attr("width", 67).attr("height", 23).attr("rx", 2)
  .attr("y", function(d) { return d.y - 11.5; }).attr("fill", function(d) { return d.fill; });
tag.append("text").attr("x", plotR + 12).attr("y", function(d) { return d.y; }).attr("dy", "0.35em")
  .attr("fill", "#fff").style("font-size", "15px").text(function(d) { return fmt32(d.p); });

// ---------- titles ----------
var t = svg.append("g").attr("fill", "#131722").style("font-size", "15px");
t.append("text").attr("x", 10).attr("y", 26).style("font-weight", "bold")
  .text("Ultra U.S. Treasury Bond Futures \u00b7 1D \u00b7 CBOT");
t.append("text").attr("x", 10).attr("y", 47).text("SMA (50, close)");
t.append("text").attr("x", 10).attr("y", 68).text("SMA (200, close)");
t.append("text").attr("x", 10).attr("y", 883).text("Vol");
t.append("text").attr("x", 10).attr("y", 1025).text("RSI (14, close, SMA, 14, 2)");
t.append("text").attr("x", 10).attr("y", 1154).text("MACD (12, 26, close, 9, EMA, EMA)");
</script>
</body>
</html>
